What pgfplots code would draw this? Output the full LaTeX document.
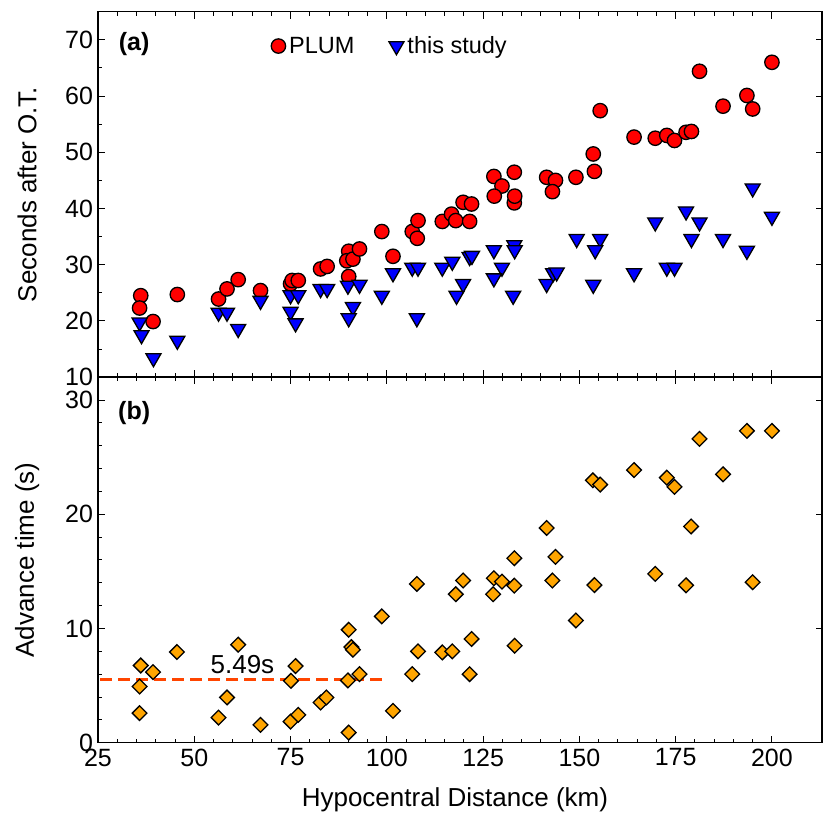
\documentclass[border=0pt]{standalone}
\usepackage{fontspec}
\setmainfont{Liberation Sans}
\usepackage{pgfplots}
\usepackage{pgfplotstable}
\pgfplotsset{compat=1.18}
\definecolor{plumred}{RGB}{255,0,0}
\definecolor{studyblue}{RGB}{0,0,255}
\definecolor{advorange}{RGB}{255,165,0}
\definecolor{dashred}{RGB}{255,69,0}
\newcommand{\fst}{\fontsize{25bp}{29bp}\selectfont}
\newcommand{\fsl}{\fontsize{26bp}{30bp}\selectfont}
\newcommand{\fsg}{\fontsize{23.5bp}{27bp}\selectfont}

\pgfplotstableread{
x y
36.1 24.5
35.8 22.3
39.3 19.9
45.6 24.7
56.3 23.9
58.5 25.7
61.4 27.35
67.2 25.4
75.0 26.6
75.4 27.2
77.0 27.2
82.8 29.25
84.5 29.7
90.1 32.4
89.6 30.7
91.2 31.0
92.9 32.8
90.1 27.9
98.7 35.9
101.6 31.5
106.6 35.9
108.1 37.85
107.9 34.7
114.4 37.7
116.8 39.0
117.9 37.85
119.8 41.1
122.0 40.8
121.5 37.7
127.8 45.7
129.9 44.0
127.9 42.2
133.1 46.45
133.1 41.0
133.2 42.2
141.5 45.55
143.8 45.0
143.0 43.0
149.1 45.55
153.6 49.7
153.9 46.6
155.4 57.4
164.2 52.7
169.7 52.5
172.7 53.0
174.7 52.1
177.7 53.55
179.1 53.7
181.2 64.4
187.3 58.2
193.5 60.1
195.0 57.7
200.0 66.0
}\plumtable

\pgfplotstableread{
x y
35.8 19.75
36.3 17.5
39.4 13.4
45.6 16.5
56.3 21.5
58.5 21.5
61.4 18.6
67.2 23.6
75.0 24.6
77.0 24.6
75.0 21.65
76.3 19.6
82.8 25.7
84.5 25.7
89.9 26.3
92.9 26.45
91.2 22.5
90.1 20.5
98.7 24.5
101.6 28.5
106.6 29.5
108.1 29.5
107.8 20.5
114.4 29.5
117.0 30.55
118.1 24.5
119.8 26.6
121.5 31.4
122.1 31.6
127.8 32.6
129.9 29.5
127.8 27.6
133.1 33.5
133.2 32.6
132.8 24.5
141.5 26.6
143.2 28.5
144.1 28.65
149.3 34.6
155.4 34.6
154.1 32.6
153.6 26.45
164.2 28.5
169.7 37.55
172.7 29.5
174.7 29.5
177.7 39.5
179.1 34.6
181.2 37.55
187.3 34.6
193.5 32.5
195.0 43.6
200.0 38.55
}\studytable

\pgfplotstableread{
x y
36.1 6.76
35.8 4.92
35.8 2.59
39.3 6.18
45.5 7.94
61.4 8.58
58.5 3.96
56.3 2.2
67.2 1.56
75.0 1.85
77.0 2.44
76.3 6.71
75.1 5.42
82.8 3.52
84.3 3.96
90.1 9.89
90.8 8.37
91.2 8.14
89.9 5.45
92.9 6.0
90.1 0.89
98.7 11.06
101.6 2.79
107.8 13.9
108.1 8.0
106.6 6.0
114.4 7.9
117.0 8.0
117.9 13.0
119.8 14.2
122.0 9.08
121.5 6.0
127.8 14.4
127.6 13.0
129.9 14.1
133.1 16.15
133.1 13.75
133.2 8.49
141.5 18.8
143.8 16.27
143.0 14.2
149.1 10.7
153.5 22.97
155.4 22.6
153.9 13.8
164.2 23.87
169.7 14.78
172.7 23.2
174.7 22.4
177.7 13.78
179.0 18.93
181.2 26.6
187.3 23.5
193.5 27.3
195.0 14.05
200.0 27.3
}\advtable

\pgfplotsset{
  base/.style={
    scale only axis, width=724bp, height=365.5bp,
    xmin=25, xmax=213,
    xtick={25,50,...,200}, minor x tick num=4,
    axis line style={line width=1.5bp},
    every tick/.style={black, line width=1bp},
    major tick length=7bp, minor tick length=4bp,
    tick align=inside,
    ytick pos=left,
    tick label style={font=\fst},
    xticklabel style={yshift=-2.5bp},
    yticklabel style={xshift=-1.5bp},
    label style={font=\fsl},
    /pgf/number format/assume math mode=true,
    extra y tick labels={},
    extra y tick style={ytick pos=right, major tick length=6bp},
  }
}

\begin{document}
\begin{tikzpicture}
% bottom panel
\begin{axis}[base, at={(0,0)}, anchor=south west,
  ymin=0, ymax=32, ytick={0,10,20,30}, minor y tick num=4,
  extra y ticks={0,10,20,30},
  xlabel={Hypocentral Distance (km)},
  xlabel style={at={(axis description cs:0.493,0)}, anchor=center, yshift=-57.3bp},
  ylabel={Advance time (s)},
  ylabel style={at={(axis description cs:-0.098,0.5)}, anchor=center},
]
\addplot[dashred, line width=3bp, dash pattern=on 12bp off 6bp] coordinates {(25.6,5.49) (100,5.49)};
\addplot[only marks, mark=square*, mark size=5.2bp,
  mark options={rotate=45, fill=advorange, draw=black, line width=1.3bp}] table {\advtable};
\node[font=\fsl] at (axis cs:62.5,6.8) {5.49s};
\node[font=\fst\bfseries] at (axis cs:34.4,28.9) {(b)};
\end{axis}
% top panel
\begin{axis}[base, at={(0,365.5bp)}, anchor=south west,
  ymin=10, ymax=75, ytick={10,20,...,70}, minor y tick num=1,
  extra y ticks={10,20,...,70},
  xticklabels={},
  ylabel={Seconds after O.T.},
  ylabel style={at={(axis description cs:-0.098,0.5)}, anchor=center},
  legend columns=2,
  legend image code/.code={\draw[#1] plot coordinates {(0bp,0bp)};},
  legend style={at={(axis description cs:0.239,0.906)}, anchor=west, draw=none, fill=none,
    inner sep=0pt, font=\fsg,
    nodes={inner sep=3.5bp},
    /tikz/every even column/.append style={column sep=31bp}},
]
\addplot[only marks, mark=*, mark size=7.2bp,
  mark options={fill=plumred, draw=black, line width=1.3bp}] table {\plumtable};
\addlegendentry{PLUM}
\addplot[only marks, mark=triangle*, mark size=8.7bp,
  mark options={rotate=180, fill=studyblue, draw=black, line width=1.3bp}] table {\studytable};
\addlegendentry{this study}
\node[font=\fst\bfseries] at (axis cs:34.4,69.2) {(a)};
\end{axis}
\pgfresetboundingbox
\useasboundingbox (-98bp,-82.3bp) rectangle (725.5bp,742.7bp);
\end{tikzpicture}
\end{document}
